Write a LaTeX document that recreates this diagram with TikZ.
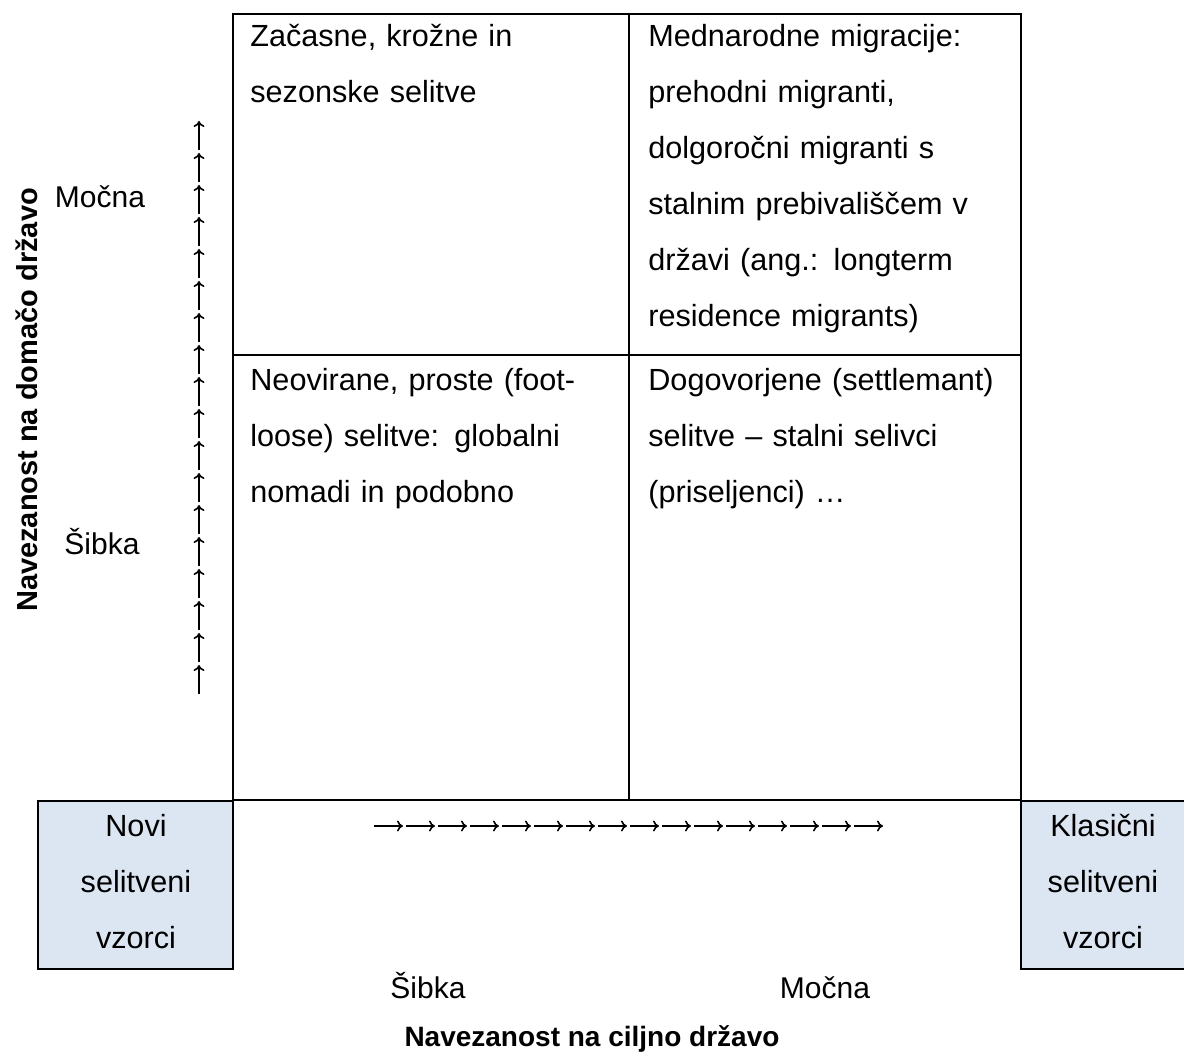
\documentclass[tikz,border=0pt]{standalone}
\usepackage{fontspec}
\setmainfont{Liberation Sans}
\usetikzlibrary{arrows.meta}
\definecolor{boxblue}{HTML}{DCE6F2}

\begin{document}
\begin{tikzpicture}[x=0.5pt,y=-0.5pt,
		cell/.style={anchor=base west,inner sep=0pt,text width=185pt,align=left,font=\fontsize{15.3}{28}\selectfont},
		boxtext/.style={anchor=base,inner sep=0pt,text width=95pt,align=center,font=\fontsize{15.3}{28}\selectfont},
		lbl/.style={anchor=base,inner sep=0pt,font=\fontsize{15}{18}\selectfont},
		axtitle/.style={inner sep=0pt,font=\fontsize{14.5}{18}\selectfont\bfseries},
		tick/.style={line width=0.8pt,-{To[length=3pt,width=5.5pt]}}]
		\useasboundingbox (0,0) rectangle (1184,1059);
		% grid of the four cells
		\draw[line width=1pt] (233,14) rectangle (1021,800);
		\draw[line width=1pt] (629,14) -- (629,800);
		\draw[line width=1pt] (233,355) -- (1021,355);
		\node[cell] (tl) at (250,47) {Začasne, krožne in\\sezonske selitve};
		\node[cell] (tr) at (648,47) {Mednarodne migracije:\\prehodni migranti,\\dolgoročni migranti s\\stalnim prebivališčem v\\državi (ang.: longterm\\residence migrants)};
		\node[cell] (bl) at (250,391) {Neovirane, proste (foot-\\loose) selitve: globalni\\nomadi in podobno};
		\node[cell] (br) at (648,391) {Dogovorjene (settlemant)\\selitve -- stalni selivci\\(priseljenci) …};
		% end boxes
		\fill[boxblue] (38,801) rectangle (233,969);
		\draw[line width=1pt] (38,801) rectangle (233,969);
		\fill[boxblue] (1021,801) rectangle (1190,969);
		\draw[line width=1pt] (1190,801) -- (1021,801) -- (1021,969) -- (1190,969);
		\node[boxtext] (novi) at (136,836) {Novi\\selitveni\\vzorci};
		\node[boxtext] (klas) at (1103,836) {Klasični\\selitveni\\vzorci};
		% arrows
		\foreach \i in {0,...,17}
			\draw[tick] (199,{694-32*\i}) -- (199,{665-32*\i});
		\foreach \i in {0,...,15}
			\draw[tick] ({374+32*\i},826) -- ({403+32*\i},826);
		% labels
		\node[lbl] (mocnay) at (100,208) {Močna};
		\node[lbl] (sibkay) at (102,554) {Šibka};
		\node[lbl] (sibkax) at (428,998) {Šibka};
		\node[lbl] (mocnax) at (825,998) {Močna};
		\node[axtitle,rotate=90] (ytitle) at (27,400) {Navezanost na domačo državo};
		\node[axtitle,anchor=base,font=\fontsize{14}{18}\selectfont\bfseries] (xtitle) at (592,1046) {Navezanost na ciljno državo};
	\end{tikzpicture}
\end{document}
